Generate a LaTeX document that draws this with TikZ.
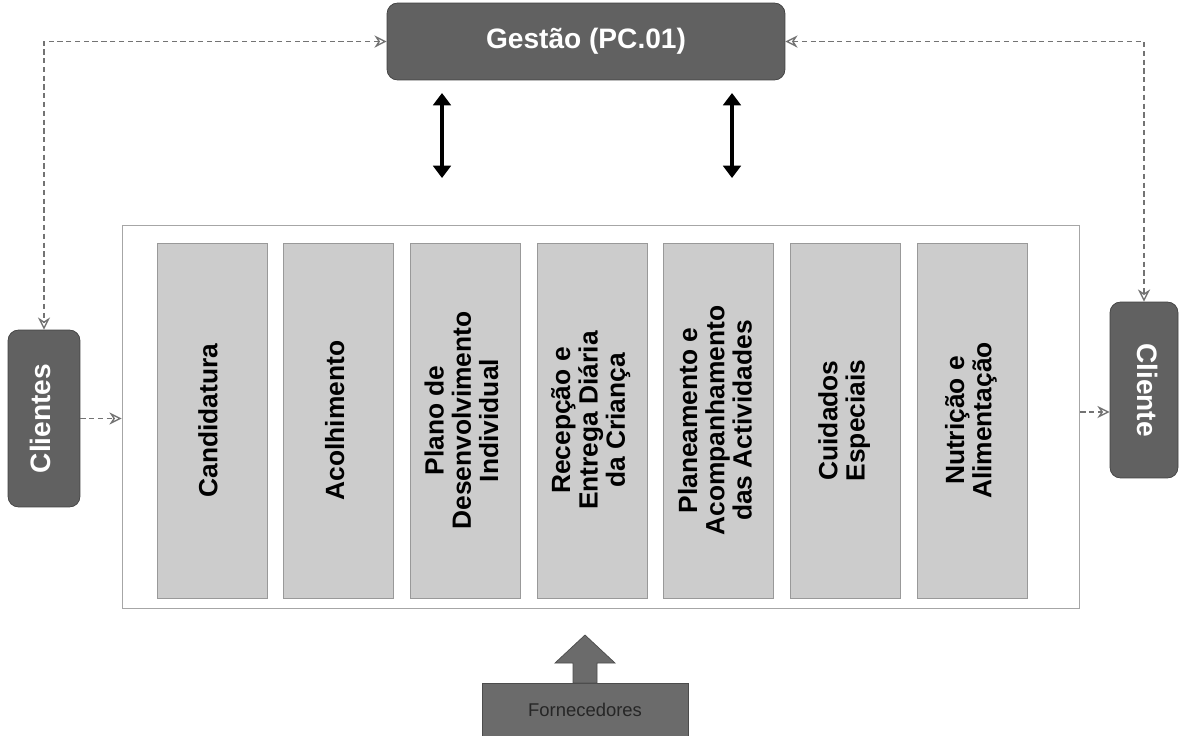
\documentclass[tikz,border=0pt]{standalone}
\usepackage{fontspec}
\setmainfont{Liberation Sans}
\usetikzlibrary{arrows.meta}
\tikzset{
  darkbox/.style={draw=black!75, fill=black!62, rounded corners=6pt, text=white, inner sep=0pt, font=\fontsize{16}{18}\selectfont\bfseries},
  procframe/.style={draw=black!35, line width=0.5pt, fill=white, inner sep=0pt},
  column/.style={draw=black!40, fill=black!20, inner sep=0pt, text=black, font=\fontsize{15}{15.5}\selectfont\bfseries},
  supplier/.style={draw=black!70, fill=black!58, inner sep=0pt, text=black!85, font=\fontsize{10.5}{12}\selectfont},
  flow/.style={draw=black!55, line width=0.8pt, densely dashed, {Stealth[length=7pt,width=7pt,open]}-{Stealth[length=7pt,width=7pt,open]}},
  feed/.style={draw=black!55, line width=0.8pt, densely dashed, -{Stealth[length=7pt,width=7pt,open]}},
  biarrow/.style={draw=black, line width=2pt, {Triangle[length=7pt,width=10pt]}-{Triangle[length=7pt,width=10pt]}},
  blockarrow/.style={draw=black!70, fill=black!58}
}
\newcommand{\vlabel}[2][90]{\rotatebox{#1}{\begin{tabular}{@{}c@{}}#2\end{tabular}}}

\begin{document}
\begin{tikzpicture}[x=0.02cm, y=-0.02cm]
  \useasboundingbox (0,0) rectangle (1181,735);
  % top: management
  \node[darkbox, minimum width=7.96cm, minimum height=1.54cm] (ges) at (586,41.5) {Gestão (PC.01)};
  % clients
  \node[darkbox, minimum width=1.44cm, minimum height=3.54cm] (cli) at (44,418.5) {\vlabel{Clientes}};
  \node[darkbox, minimum width=1.36cm, minimum height=3.52cm] (clt) at (1144,390) {\vlabel[-90]{Cliente}};
  % process frame and columns
  \node[procframe, minimum width=19.16cm, minimum height=7.66cm] (proc) at (601,416.5) {};
  \foreach \txt [count=\i from 0] in {Candidatura, Acolhimento,
      {Plano de\\Desenvolvimento\\Individual},
      {Recepção e\\Entrega Diária\\da Criança},
      {Planeamento e\\Acompanhamento\\das Actividades},
      {Cuidados\\Especiais},
      {Nutrição e\\Alimentação}}
    \node[column, minimum width=2.2cm, minimum height=7.1cm] (col\i) at (212+126.7*\i,420.5) {\vlabel{\txt}};
  % suppliers
  \node[supplier, minimum width=4.12cm, minimum height=1.06cm] (forn) at (585,709.5) {Fornecedores};
  \draw[blockarrow] (573,683) -- (573,663) -- (555,663) -- (585,635) -- (615,663) -- (597,663) -- (597,683) -- cycle;
  % connectors
  \draw[flow] (ges.west) -| (cli.north);
  \draw[flow] (ges.east) -| (clt.north);
  \draw[feed] (cli.east) -- (cli.east -| proc.west);
  \draw[feed] (proc.east |- 0,412) -- (clt.west |- 0,412);
  \coordinate (g1t) at (442,93);
  \coordinate (g1b) at (442,178);
  \coordinate (g2t) at (732,93);
  \coordinate (g2b) at (732,178);
  \draw[biarrow] (g1t) -- (g1b);
  \draw[biarrow] (g2t) -- (g2b);
\end{tikzpicture}
\end{document}
